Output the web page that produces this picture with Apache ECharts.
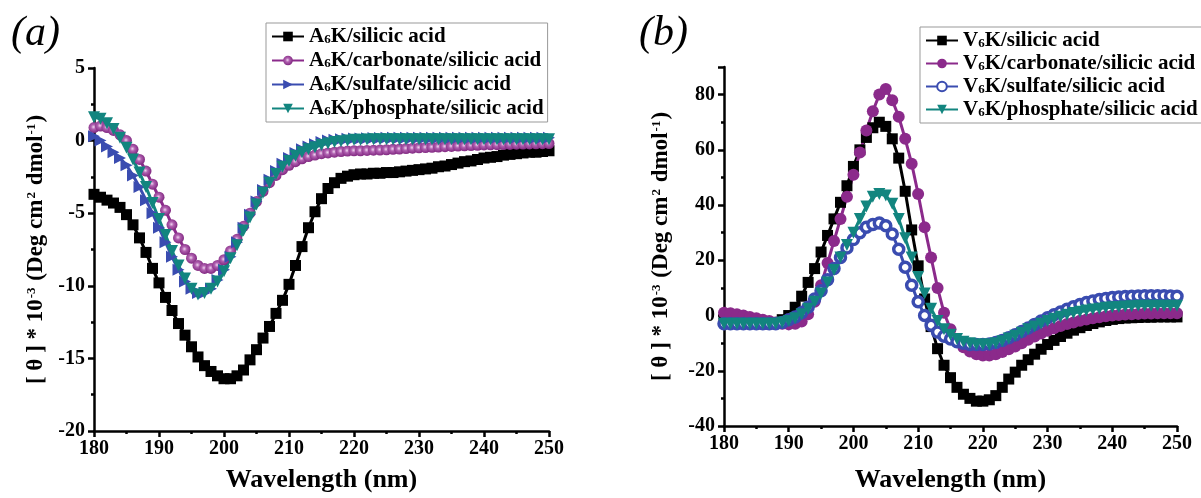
<!DOCTYPE html>
<html>
<head>
<meta charset="utf-8">
<script src="https://cdn.jsdelivr.net/npm/echarts@6/dist/echarts.min.js"></script>
<style>
html, body { margin: 0; padding: 0; background: #fff; }
#main { width: 1201px; height: 498px; }
</style>
</head>
<body>
<div id="main"></div>
<script>
// wavelength grid (nm), one point per nm
var wavelength = [180,181,182,183,184,185,186,187,188,189,190,191,192,193,194,195,196,197,198,199,
  200,201,202,203,204,205,206,207,208,209,210,211,212,213,214,215,216,217,218,219,
  220,221,222,223,224,225,226,227,228,229,230,231,232,233,234,235,236,237,238,239,
  240,241,242,243,244,245,246,247,248,249,250];

// panel (a) A6K
var a_silicic = [-3.7,-3.9,-4.1,-4.3,-4.6,-5.1,-5.8,-6.7,-7.7,-8.8,-9.8,-10.8,-11.7,-12.6,-13.4,-14.2,-14.9,-15.5,-15.9,-16.2,
  -16.4,-16.4,-16.2,-15.8,-15.1,-14.4,-13.6,-12.8,-11.9,-11.0,-9.9,-8.6,-7.3,-6.0,-4.9,-4.0,-3.3,-2.9,-2.6,-2.45,
  -2.35,-2.3,-2.3,-2.25,-2.25,-2.2,-2.2,-2.15,-2.1,-2.05,-2.0,-1.95,-1.9,-1.8,-1.75,-1.65,-1.55,-1.45,-1.4,-1.3,
  -1.2,-1.15,-1.1,-1.0,-0.95,-0.9,-0.85,-0.8,-0.8,-0.75,-0.7];
var a_carbonate = [0.9,1.0,0.9,0.7,0.4,0.0,-0.6,-1.3,-2.1,-3.0,-3.9,-4.8,-5.8,-6.7,-7.5,-8.1,-8.6,-8.8,-8.8,-8.6,
  -8.2,-7.6,-6.8,-5.9,-5.0,-4.2,-3.5,-2.9,-2.4,-2.0,-1.7,-1.45,-1.25,-1.1,-1.0,-0.9,-0.85,-0.8,-0.75,-0.72,
  -0.7,-0.7,-0.68,-0.66,-0.65,-0.63,-0.6,-0.58,-0.55,-0.52,-0.5,-0.48,-0.46,-0.44,-0.42,-0.4,-0.38,-0.36,-0.34,-0.32,
  -0.3,-0.29,-0.28,-0.27,-0.26,-0.25,-0.24,-0.23,-0.22,-0.21,-0.2];
var a_sulfate = [0.3,0.0,-0.4,-0.8,-1.2,-1.7,-2.4,-3.2,-4.1,-5.0,-6.0,-7.0,-8.0,-8.9,-9.7,-10.2,-10.5,-10.5,-10.2,-9.6,
  -8.9,-8.0,-7.0,-6.0,-5.1,-4.2,-3.4,-2.7,-2.1,-1.6,-1.2,-0.85,-0.6,-0.4,-0.25,-0.1,0.0,0.05,0.1,0.12,
  0.15,0.15,0.17,0.18,0.18,0.2,0.2,0.2,0.2,0.2,0.2,0.2,0.2,0.2,0.2,0.2,0.2,0.2,0.2,0.2,
  0.2,0.2,0.2,0.2,0.2,0.2,0.2,0.2,0.2,0.2,0.2];
var a_phosphate = [1.6,1.5,1.2,0.8,0.2,-0.5,-1.3,-2.2,-3.2,-4.3,-5.4,-6.5,-7.6,-8.6,-9.5,-10.2,-10.6,-10.5,-10.2,-9.7,
  -9.0,-8.1,-7.2,-6.2,-5.3,-4.4,-3.6,-2.9,-2.3,-1.8,-1.4,-1.05,-0.8,-0.6,-0.45,-0.3,-0.2,-0.1,-0.05,0.0,
  0.05,0.05,0.08,0.1,0.1,0.1,0.1,0.1,0.1,0.1,0.1,0.1,0.1,0.1,0.1,0.1,0.1,0.1,0.1,0.1,
  0.1,0.1,0.1,0.1,0.1,0.1,0.1,0.1,0.1,0.1,0.1];

// panel (b) V6K
var b_silicic = [-2,-2,-2.1,-2.3,-2.5,-2.8,-3,-3,-2.5,-1.5,0,3,7,12,17,23,29,35,41,47,
  54,60,64.5,68,70,68.5,64,57,45,31,18,6,-4,-12,-18,-22.5,-26,-28.5,-30,-31,
  -31,-30.5,-29,-26,-23,-20.5,-18,-16,-14,-12.2,-10.5,-9,-7.6,-6.4,-5.3,-4.4,-3.6,-2.9,-2.3,-1.8,
  -1.4,-1.1,-0.9,-0.8,-0.7,-0.6,-0.6,-0.5,-0.5,-0.5,-0.5];
var b_carbonate = [1,0.8,0.5,0,-0.5,-1,-1.5,-2,-2.5,-3,-3.2,-3,-2.2,0.5,5,11,19,27,35,43,
  51,59,67,74,80,82,78,72,64,55,44,32,21,10,1,-5,-9,-11.5,-13,-14,
  -14.5,-14.5,-14,-13.2,-12.2,-11.2,-10,-8.8,-7.6,-6.5,-5.5,-4.6,-3.8,-3.1,-2.5,-1.9,-1.4,-1,-0.6,-0.3,
  0,0.2,0.4,0.5,0.6,0.7,0.7,0.8,0.8,0.8,0.8];
var b_sulfate = [-3,-3,-3,-3,-3,-3,-3,-3,-3,-2.5,-1.5,-0.5,1,3,6,9,13,17,21,24.5,
  27.5,30,32,33,33.5,32.5,29.5,24,17.5,11,5,0,-3.5,-6,-7.5,-8.5,-9.5,-10,-10.5,-10.5,
  -10.5,-10.3,-9.8,-9,-8,-7,-5.8,-4.5,-3.2,-2,-0.8,0.3,1.3,2.3,3.2,4,4.7,5.3,5.8,6.2,
  6.5,6.7,6.9,7,7.1,7.2,7.2,7.2,7.2,7.1,7];
var b_phosphate = [-3,-3,-3,-3,-3,-3,-3,-3,-3,-2.5,-2,-1,0.5,2.5,5,8,12,16.5,21,25.5,
  30,35,39.5,43,44,43.5,40.5,35,28,21,14,8,2.5,-2,-5,-7,-8.5,-9.5,-10,-10.5,
  -10.5,-10.5,-10,-9.3,-8.3,-7.3,-6.2,-5,-4,-3,-2,-1.2,-0.4,0.3,0.9,1.4,1.8,2.2,2.5,2.8,
  3,3.1,3.3,3.4,3.5,3.5,3.5,3.5,3.5,3.5,3.5];

var FONT = '"Liberation Serif", "Times New Roman", serif';
var BLACK = '#000000';
var PURPLE = '#8b2a8b';
var BLUE = '#3a4cb0';
var TEAL = '#12857f';

function pairs(ys) {
  var out = [];
  for (var i = 0; i < wavelength.length; i++) out.push([wavelength[i], ys[i]]);
  return out;
}

function legendFmt(name) {
  return '{n|' + name.charAt(0) + '}{s|6}{n|' + name.slice(2) + '}';
}

var legendRich = {
  n: { fontFamily: FONT, fontWeight: 'bold', fontSize: 21, color: '#000' },
  s: { fontFamily: FONT, fontWeight: 'bold', fontSize: 13, color: '#000', verticalAlign: 'bottom', padding: [0, 0, 1, 0] }
};

var yName = '{n|[ θ ] * 10}{sup|-3}{n| (Deg cm}{sup|2}{n| dmol}{sup|-1}{n|)}';
var yNameStyle = {
  rich: {
    n: { fontFamily: FONT, fontWeight: 'bold', fontSize: 23, color: '#000' },
    sup: { fontFamily: FONT, fontWeight: 'bold', fontSize: 13, color: '#000', verticalAlign: 'top', padding: [0, 1, 8, 1] }
  }
};

function xAxisOf(idx) {
  return {
    type: 'value', gridIndex: idx, min: 180, max: 250, interval: 10,
    name: 'Wavelength (nm)', nameLocation: 'middle', nameGap: idx === 0 ? 36 : 41,
    nameTextStyle: { fontFamily: FONT, fontWeight: 'bold', fontSize: 26, color: '#000' },
    axisLine: { onZero: false, lineStyle: { color: '#000', width: 2.5 } },
    axisTick: { length: 6, lineStyle: { color: '#000', width: 2.5 } },
    minorTick: { show: true, splitNumber: 2, length: 3, lineStyle: { color: '#000', width: 2.5 } },
    axisLabel: { fontFamily: FONT, fontWeight: 'bold', fontSize: 20, color: '#000', margin: 8 },
    splitLine: { show: false }
  };
}

function yAxisOf(idx, min, max, interval, gap) {
  return {
    type: 'value', gridIndex: idx, min: min, max: max, interval: interval,
    name: yName, nameLocation: 'middle', nameGap: gap, nameTextStyle: yNameStyle,
    axisLine: { onZero: false, lineStyle: { color: '#000', width: 2.5 } },
    axisTick: { length: 6, lineStyle: { color: '#000', width: 2.5 } },
    minorTick: { show: true, splitNumber: 2, length: 3, lineStyle: { color: '#000', width: 2.5 } },
    axisLabel: { fontFamily: FONT, fontWeight: 'bold', fontSize: 20, color: '#000', margin: 9, showMaxLabel: idx === 0 },
    splitLine: { show: false }
  };
}

function lineSeries(name, ys, idx, color, symbol, size, rotate, itemStyle) {
  return {
    name: name, type: 'line', xAxisIndex: idx, yAxisIndex: idx,
    data: pairs(ys), symbol: symbol, symbolSize: size, symbolRotate: rotate,
    showAllSymbol: true, animation: false,
    lineStyle: { color: color, width: 3 },
    itemStyle: itemStyle || { color: color, borderWidth: 0 }
  };
}

var purpleBall = {
  color: {
    type: 'radial', x: 0.45, y: 0.45, r: 0.6,
    colorStops: [{ offset: 0, color: '#f0d4f0' }, { offset: 0.35, color: '#b060b0' }, { offset: 1, color: '#7a207a' }]
  },
  borderWidth: 0
};

var namesA = ['A6K/silicic acid', 'A6K/carbonate/silicic acid', 'A6K/sulfate/silicic acid', 'A6K/phosphate/silicic acid'];
var namesB = ['V6K/silicic acid', 'V6K/carbonate/silicic acid', 'V6K/sulfate/silicic acid', 'V6K/phosphate/silicic acid'];

var myChart = echarts.init(document.getElementById('main'));
myChart.setOption({
  backgroundColor: '#fff',
  animation: false,
  textStyle: { fontFamily: FONT },
  title: [
    { text: '(a)', left: 6, top: 8, textStyle: { fontFamily: FONT, fontStyle: 'italic', fontWeight: 'normal', fontSize: 42, color: '#000' } },
    { text: '(b)', left: 634, top: 8, textStyle: { fontFamily: FONT, fontStyle: 'italic', fontWeight: 'normal', fontSize: 42, color: '#000' } }
  ],
  legend: [
    {
      data: namesA, orient: 'vertical', left: 266, top: 23, itemGap: 3, itemWidth: 32, itemHeight: 12,
      padding: [3, 4, 3, 5], borderColor: '#999', borderWidth: 1,
      formatter: legendFmt, textStyle: { rich: legendRich }
    },
    {
      data: namesB, orient: 'vertical', left: 920, top: 27, itemGap: 2, itemWidth: 32, itemHeight: 12,
      padding: [3, 20, 3, 5], borderColor: '#999', borderWidth: 1,
      formatter: legendFmt, textStyle: { rich: legendRich }
    }
  ],
  grid: [
    { left: 94, top: 68, width: 455, height: 370 },
    { left: 724, top: 67, width: 453, height: 365 }
  ],
  xAxis: [xAxisOf(0), xAxisOf(1)],
  yAxis: [yAxisOf(0, -20, 5, 5, 46), yAxisOf(1, -40, 90, 20, 51)],
  series: [
    lineSeries(namesA[0], a_silicic, 0, BLACK, 'rect', 11, 0),
    lineSeries(namesA[1], a_carbonate, 0, PURPLE, 'circle', 11, 0, purpleBall),
    lineSeries(namesA[2], a_sulfate, 0, BLUE, 'triangle', 12, -90),
    lineSeries(namesA[3], a_phosphate, 0, TEAL, 'triangle', 12, 180),
    lineSeries(namesB[0], b_silicic, 1, BLACK, 'rect', 11, 0),
    lineSeries(namesB[1], b_carbonate, 1, PURPLE, 'circle', 12, 0),
    lineSeries(namesB[2], b_sulfate, 1, BLUE, 'circle', 10, 0, { color: '#ffffff', borderColor: BLUE, borderWidth: 3.5 }),
    lineSeries(namesB[3], b_phosphate, 1, TEAL, 'triangle', 12, 180)
  ]
});
</script>
</body>
</html>
